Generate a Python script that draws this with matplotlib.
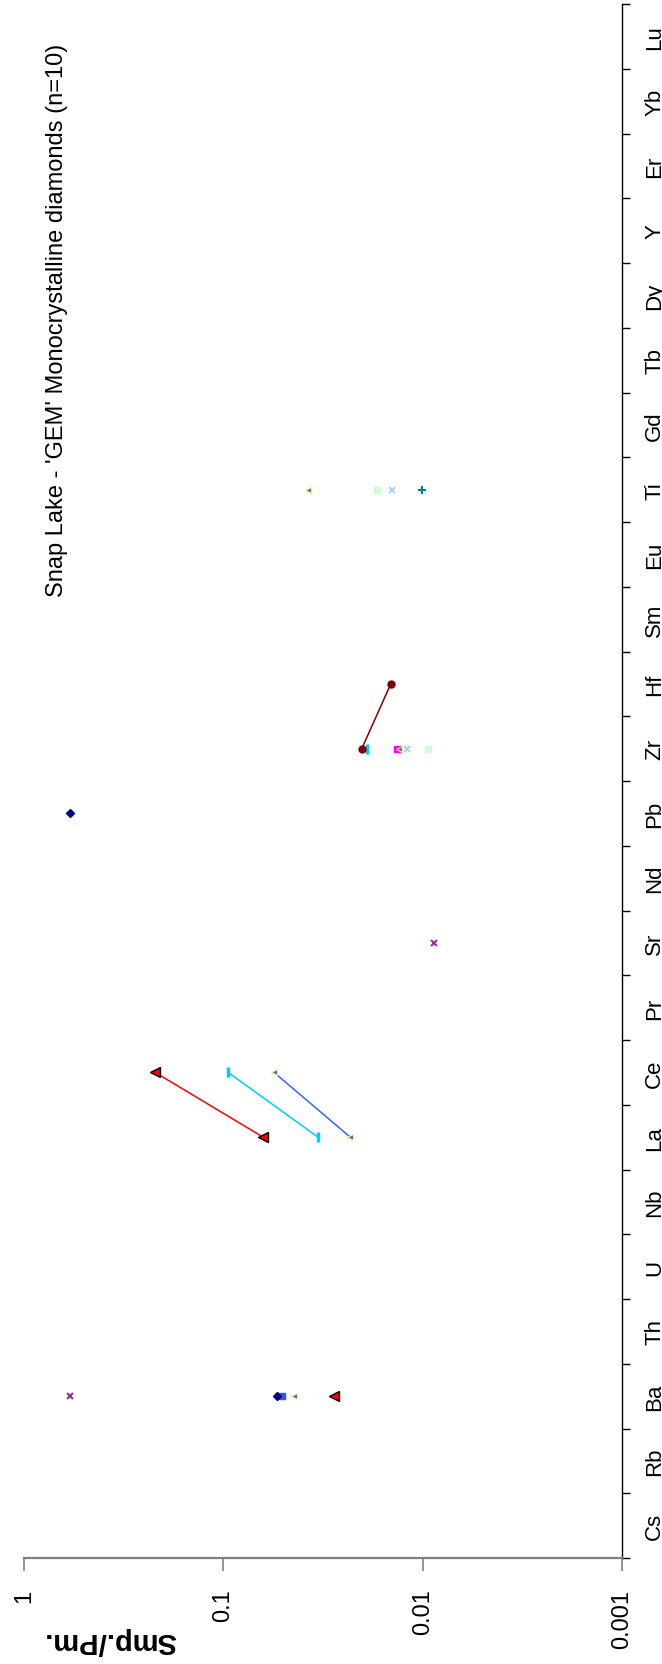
import numpy as np
import matplotlib.pyplot as plt

plt.rcParams['font.family'] = ['Liberation Sans', 'DejaVu Sans']

elements = ["Cs", "Rb", "Ba", "Th", "U", "Nb", "La", "Ce", "Pr", "Sr", "Nd", "Pb",
            "Zr", "Hf", "Sm", "Eu", "Ti", "Gd", "Tb", "Dy", "Y", "Er", "Yb", "Lu"]

# one small list pair per diamond/series (element, Smp./Pm.)
red_el = ["Ba", "La", "Ce"]
red_val = [0.0280, 0.0632, 0.220]
cyan_el = ["La", "Ce", "Zr"]
cyan_val = [0.0335, 0.0947, 0.0191]
blue_el = ["Ba", "La", "Ce", "Zr", "Ti"]
blue_val = [0.0444, 0.0231, 0.0557, 0.0131, 0.0375]
maroon_el = ["Zr", "Hf"]
maroon_val = [0.0202, 0.01445]
navy_el = ["Ba", "Pb"]
navy_val = [0.0535, 0.59]
bsq_el = ["Ba"]
bsq_val = [0.0509]
purple_el = ["Ba", "Sr"]
purple_val = [0.59, 0.00877]
mag_el = ["Zr"]
mag_val = [0.0135]
ltblue_el = ["Zr", "Ti"]
ltblue_val = [0.0120, 0.01425]
ltgreen_el = ["Zr", "Ti"]
ltgreen_val = [0.00936, 0.0170]
teal_el = ["Ti"]
teal_val = [0.0101]

value_ticks = [1, 0.1, 0.01, 0.001]
value_labels = ["1", "0.1", "0.01", "0.001"]


def full(els, vals):
    # spread onto the whole element list, blanks as NaN so lines break
    arr = np.full(len(elements), np.nan)
    for e, v in zip(els, vals):
        arr[elements.index(e)] = v
    return arr


fig = plt.figure(figsize=(6.62, 16.65), dpi=100)
ax = fig.add_axes([24/662, 106/1665, 598/662, 1554/1665])
pos = np.arange(len(elements))

series = [
    (bsq_el, bsq_val, dict(ls='none', marker='s', ms=4, mfc='#3355ff', mec='#3355ff')),
    (red_el, red_val, dict(color='#ff0000', lw=1.1, marker='<', ms=6.5, mfc='#ff0000', mec='black', mew=1.0)),
    (cyan_el, cyan_val, dict(color='#00ccff', lw=1.1, marker='|', ms=7, mew=2.5, mec='#00ccff')),
    (blue_el, blue_val, dict(color='#3366ff', lw=1.1, marker='<', ms=5, mfc='#3366ff', mec='#ffff66', mew=0.8)),
    (maroon_el, maroon_val, dict(color='#800000', lw=1.1, marker='o', ms=5, mfc='#800000', mec='#800000')),
    (navy_el, navy_val, dict(ls='none', marker='D', ms=4.5, mfc='#000080', mec='#000080')),
    (purple_el, purple_val, dict(ls='none', marker='x', ms=4, mew=1.5, mec='#993399')),
    (mag_el, mag_val, dict(ls='none', marker='s', ms=5, mfc='#ff00ff', mec='#ff00ff')),
    (ltblue_el, ltblue_val, dict(ls='none', marker='x', ms=5, mew=1.2, mec='#99ccff')),
    (ltgreen_el, ltgreen_val, dict(ls='none', marker='s', ms=5, mfc='#ccffcc', mec='#ccffcc')),
    (teal_el, teal_val, dict(ls='none', marker='+', ms=6, mew=1.5, mec='#008080')),
]
for els, vals, kw in series:
    ax.plot(full(els, vals), pos, **kw)
# blue triangle drawn again over the magenta square at Zr
ax.plot(full(blue_el, blue_val), pos, ls='none', marker='<', ms=5, mfc='#3366ff', mec='#ffff66', mew=0.8)

ax.set_xscale('log')
ax.set_xlim(1, 0.001)
ax.set_ylim(-0.5, len(elements) - 0.5)

ax.set_xticks(value_ticks)
ax.set_xticklabels(value_labels, rotation=90, fontsize=17)
ax.xaxis.set_minor_locator(plt.NullLocator())
ax.tick_params(axis='x', which='major', direction='out', length=9, width=1.2,
               color='#808080', pad=13)

ax.yaxis.tick_right()
ax.set_yticks(np.arange(-0.5, len(elements)), minor=False)
ax.set_yticklabels([])
ax.set_yticks(pos, minor=True)
ax.set_yticklabels(elements, minor=True, rotation=90, fontsize=16, va='center')
ax.tick_params(axis='y', which='major', direction='out', length=6, width=1.0, color='black')
ax.tick_params(axis='y', which='minor', length=0, pad=16)

ax.spines['left'].set_visible(False)
ax.spines['top'].set_visible(False)
ax.spines['bottom'].set_color('#808080')
ax.spines['bottom'].set_linewidth(1.6)
ax.spines['right'].set_color('black')
ax.spines['right'].set_linewidth(1.0)

fig.text(57/662, 1 - 320/1665, "Snap Lake - 'GEM' Monocrystalline diamonds (n=10)",
         rotation=90, ha='center', va='center', fontsize=17)
fig.text(110/662, 1 - 1641/1665, "Smp./Pm.", rotation=180, ha='center', va='center',
         fontsize=21, fontweight='bold')

fig.savefig('out.png', dpi=100)
